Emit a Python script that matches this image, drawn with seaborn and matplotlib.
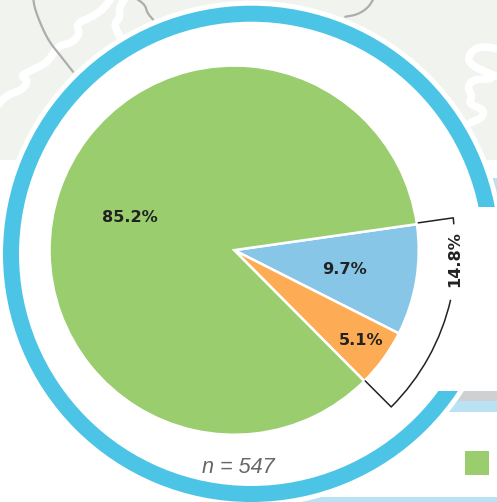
import numpy as np
import pandas as pd
import seaborn as sns
import matplotlib
matplotlib.use("Agg")
import matplotlib.pyplot as plt
from matplotlib.patches import Circle, Rectangle, Arc

W, H = 497, 502

categories = ["Group A", "Group B", "Group C"]
shares = [9.7, 5.1, 85.2]
share_labels = ["9.7%", "5.1%", "85.2%"]
bracket_label = "14.8%"
n_label = "n = 547"
palette = ["#88c6e8", "#fdac55", "#9acd6e"]

river_a = [(-4,108),(7,95),(23,90),(28,80),(20,76),(37,68),(48,62),(58,46),(72,43),(80,34),(76,24),(90,18),(103,10),(112,-3)]
river_b = [(126,-3),(119,8),(120,18),(114,24),(118,34),(122,40)]
river_c = [(500,50),(487,47),(475,48),(467,58),(472,66),(485,72),(500,78)]
river_d = [(490,79),(472,80),(467,88),(472,96),(468,104),(484,110),(482,118),(470,123)]
road_a = [(33,-2),(35,10),(43,30),(50,43),(58,53),(73,72)]
road_b = [(135,-2),(145,5),(147,13),(153,20)]
road_c = [(374,-2),(368,8),(357,15),(345,17)]

sns.set_theme(style="white")
df = pd.DataFrame({"category": categories, "share": shares, "label": share_labels})
colors = sns.color_palette(palette)

fig = plt.figure(figsize=((W + 0.3) / 100, (H + 0.3) / 100), dpi=100)
ax = fig.add_axes([0, 0, 1, 1])
ax.set_xlim(0, W)
ax.set_ylim(0, H)
ax.axis("off")

def fy(y):
    return H - y

def smooth(pts, rounds=3):
    p = np.array(pts, float)
    for _ in range(rounds):
        q = 0.75 * p[:-1] + 0.25 * p[1:]
        r = 0.25 * p[:-1] + 0.75 * p[1:]
        mid = np.empty((q.shape[0] * 2, 2))
        mid[0::2], mid[1::2] = q, r
        p = np.vstack([p[:1], mid, p[-1:]])
    return p

def poly(pts, **kw):
    p = smooth(pts)
    ax.plot(p[:, 0], H - p[:, 1], solid_capstyle="round", solid_joinstyle="round", **kw)

# map backdrop
ax.add_patch(Rectangle((0, fy(160)), W, 160, fc="#f1f3ef", ec="none", zorder=1))
for r in (river_a, river_b, river_c, river_d):
    poly(r, color="white", lw=5.5, zorder=2)
for r in (road_a, road_b, road_c):
    poly(r, color="#adadad", lw=1.6, zorder=3)

# bars behind the ring
ax.add_patch(Rectangle((440, fy(401)), 60, 10, fc="#cfd0d2", ec="none", zorder=1))
ax.add_patch(Rectangle((440, fy(412)), 60, 11, fc="#b9e3f2", ec="none", zorder=1))
ax.add_patch(Rectangle((480, fy(207)), 20, 29, fc="#b9e3f2", ec="none", zorder=1))
ax.add_patch(Rectangle((300, fy(503)), 200, 6, fc="#b9e3f2", ec="none", zorder=1))

# ring
rc = (251, fy(254))
ax.add_patch(Circle(rc, 253, fc="white", ec="none", zorder=4))
ax.add_patch(Circle(rc, 248, fc="#4cc4e6", ec="none", zorder=5))
ax.add_patch(Circle(rc, 232, fc="white", ec="none", zorder=6))
ax.add_patch(Rectangle((425, fy(391)), 80, 184, fc="white", ec="none", zorder=7))
ax.add_patch(Rectangle((465, fy(475)), 24, 24, fc=colors[2], ec="none", zorder=7))

# pie
wedges, _ = ax.pie(df["share"], colors=colors, startangle=8.1, counterclock=False,
                   center=(234, fy(250.3)), radius=184.5, frame=True,
                   wedgeprops=dict(edgecolor="white", linewidth=1.8, zorder=8))
for w in wedges:
    w.set_zorder(8)
ax.set_xlim(0, W)
ax.set_ylim(0, H)
ax.set_aspect("auto")
ax.axis("off")

tkw = dict(fontweight="bold", fontsize=11.6, color="#222222", ha="center", va="center",
           family="DejaVu Sans", zorder=10)
for lab, (x, y) in zip(df["label"], [(344, 269), (360.5, 340), (130, 217)]):
    ax.text(x, fy(y), lab, **tkw)
ax.text(454.5, fy(259), bracket_label, rotation=90, **tkw)

# bracket
bk = dict(color="#222222", lw=1.1, zorder=9)
ax.plot([418, 453, 453.5], [fy(223), fy(218), fy(224)], **bk)
ax.plot([365, 391], [fy(381), fy(407)], **bk)
ax.add_patch(Arc((234, fy(250)), 444, 444, theta1=-45, theta2=-13, ec="#222222", lw=1.1, zorder=9))

ax.text(238, fy(467), n_label, fontsize=15.6, style="italic", color="#666666", ha="center",
        va="center", family="Liberation Sans", zorder=10)

fig.savefig("out.png", dpi=100, facecolor="white")
